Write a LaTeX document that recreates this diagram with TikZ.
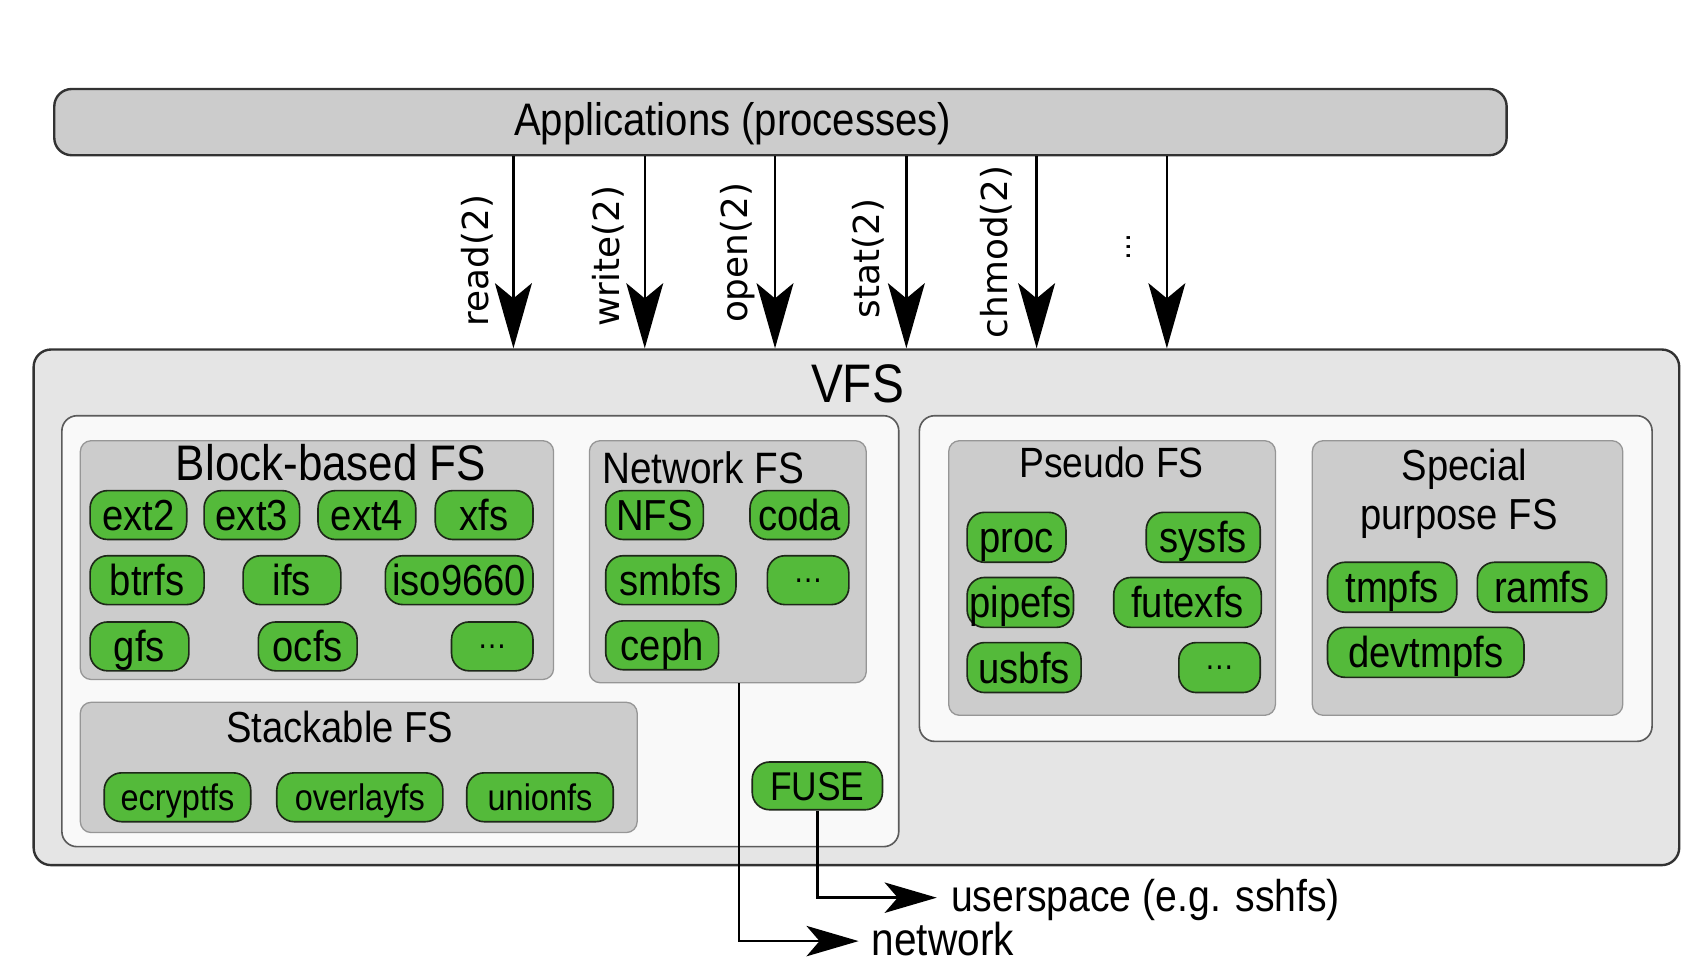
\documentclass[tikz,border=0pt]{standalone}
\usepackage{fontspec}
\setmainfont{Liberation Sans}[FakeStretch=0.88]
\newfontfamily\dvfont{DejaVu Sans}
\usetikzlibrary{arrows.meta}
\newcommand{\myfs}[1]{\fontsize{#1}{#1}\selectfont}
\definecolor{pillgreen}{RGB}{84,186,58}
\definecolor{pillstroke}{RGB}{30,40,25}
\definecolor{appfill}{RGB}{204,204,204}
\definecolor{vfsfill}{RGB}{229,229,229}
\definecolor{panelfill}{RGB}{249,249,249}
\definecolor{darkstroke}{RGB}{50,50,50}
\definecolor{boxstroke}{RGB}{150,150,150}
\begin{document}
\begin{tikzpicture}[x=1pt,y=-1pt,
  bigbox/.style={draw=darkstroke, line width=2.2, rounded corners=16, inner sep=0},
  panel/.style={draw=darkstroke!80, fill=panelfill, line width=1.5, rounded corners=14, inner sep=0},
  group/.style={draw=boxstroke, fill=appfill, line width=1.2, rounded corners=10, inner sep=0},
  pill/.style={draw=pillstroke, fill=pillgreen, line width=1.5, rounded corners=16, inner sep=0, text height=28.5pt, text depth=0pt, font=\myfs{40}},
  spill/.style={pill, font=\myfs{34}, text height=24.3pt},
  dpill/.style={pill, font=\myfs{31}, text height=3.5pt},
  title/.style={anchor=base, inner sep=0},
  call/.style={rotate=90, font=\dvfont\myfs{33}, inner sep=0},
  bigarr/.style={line width=2.2, -{Stealth[length=60pt, width=34pt, inset=14pt]}},
  outarr/.style={line width=2.2, -{Stealth[length=48pt, width=28pt, inset=12pt]}}
]
\useasboundingbox (0,0) rectangle (1568,895.5);

% main boxes
\node[bigbox, fill=appfill, minimum width=1338, minimum height=61] (apps) at (719,112.5) {};
\node[title, font=\myfs{42}] (appstxt) at (675,125) {Applications (processes)};

\node[bigbox, fill=vfsfill, minimum width=1516, minimum height=475] (vfs) at (789,559.5) {};
\node[title, font=\myfs{50}] (vfstxt) at (790,371) {VFS};

\node[panel, minimum width=771, minimum height=397] (lpanel) at (442.5,581.5) {};
\node[panel, minimum width=675, minimum height=300] (rpanel) at (1184.5,533) {};

% groups
\node[group, minimum width=436, minimum height=220] (block) at (292,516) {};
\node[title, font=\myfs{46}] (blocktxt) at (305,443) {Block-based FS};
\node[group, minimum width=255, minimum height=223] (netfs) at (670.5,517.5) {};
\node[title, font=\myfs{40.5}] (nettxt) at (648,445) {Network FS};
\node[group, minimum width=513, minimum height=120] (stack) at (330.5,707) {};
\node[title, font=\myfs{40}] (stacktxt) at (313,684) {Stackable FS};
\node[group, minimum width=301, minimum height=253] (pseudo) at (1024.5,532.5) {};
\node[title, font=\myfs{39}] (pseudotxt) at (1024,440) {Pseudo FS};
\node[group, minimum width=286, minimum height=253] (special) at (1352,532.5) {};
\node[title, font=\myfs{40}] (spectxt1) at (1349,443) {Special};
\node[title, font=\myfs{40}] (spectxt2) at (1344,488) {purpose FS};

% block-based pills
\node[pill, minimum width=89, minimum height=45] (ext2) at (127.5,474.5) {ext2};
\node[pill, minimum width=88, minimum height=45] (ext3) at (232,474.5) {ext3};
\node[pill, minimum width=90, minimum height=45] (ext4) at (338,474.5) {ext4};
\node[pill, minimum width=90, minimum height=45] (xfs) at (446,474.5) {xfs};
\node[pill, minimum width=105, minimum height=45] (btrfs) at (135.5,534.5) {btrfs};
\node[pill, minimum width=90, minimum height=45] (ifs) at (269,534.5) {ifs};
\node[pill, minimum width=136, minimum height=45] (iso) at (423,534.5) {iso9660};
\node[pill, minimum width=91, minimum height=45] (gfs) at (128.5,595.5) {gfs};
\node[pill, minimum width=91, minimum height=45] (ocfs) at (283.5,595.5) {ocfs};
\node[dpill, minimum width=75, minimum height=45] (bdots) at (453.5,595.5) {…};

% network pills
\node[pill, minimum width=90, minimum height=45] (nfs) at (603,474.5) {NFS};
\node[pill, minimum width=91, minimum height=45] (coda) at (736.5,474.5) {coda};
\node[pill, minimum width=120, minimum height=45] (smbfs) at (618,534.5) {smbfs};
\node[dpill, minimum width=75, minimum height=45] (ndots) at (744.5,534.5) {…};
\node[pill, minimum width=104, minimum height=45] (ceph) at (610,594.5) {ceph};

% stackable pills
\node[spill, minimum width=135, minimum height=45] (ecrypt) at (163.5,734.5) {ecryptfs};
\node[spill, minimum width=153, minimum height=45] (overlay) at (331.5,734.5) {overlayfs};
\node[spill, minimum width=135, minimum height=45] (union) at (497.5,734.5) {unionfs};

% FUSE
\node[pill, font=\myfs{37}, text height=26.5pt, minimum width=120, minimum height=44] (fuse) at (753,724) {FUSE};

% pseudo pills
\node[pill, minimum width=91, minimum height=46] (proc) at (936.5,495) {proc};
\node[pill, minimum width=105, minimum height=46] (sysfs) at (1108.5,495) {sysfs};
\node[pill, minimum width=98, minimum height=46] (pipefs) at (940,555) {pipefs};
\node[pill, minimum width=136, minimum height=46] (futexfs) at (1094,555) {futexfs};
\node[pill, minimum width=105, minimum height=46] (usbfs) at (943.5,615) {usbfs};
\node[dpill, minimum width=75, minimum height=46] (pdots) at (1123.5,615) {…};

% special pills
\node[pill, minimum width=119, minimum height=46] (tmpfs) at (1282.5,541) {tmpfs};
\node[pill, minimum width=119, minimum height=46] (ramfs) at (1420.5,541) {ramfs};
\node[pill, minimum width=181, minimum height=46] (devtmpfs) at (1313.5,601) {devtmpfs};

% system call arrows
\foreach \i/\x in {1/473,2/594,3/714,4/835,5/955,6/1075}{
  \coordinate (c\i) at (\x,0);
  \draw[bigarr] (c\i |- apps.south) -- (c\i |- vfs.north);
}
\node[call] (lread) at (440,240) {read(2)};
\node[call] (lwrite) at (560,236) {write(2)};
\node[call] (lopen) at (680,233) {open(2)};
\node[call] (lstat) at (800,238) {stat(2)};
\node[call] (lchmod) at (918,232) {chmod(2)};
\node[call, font=\dvfont\myfs{26}] (ldots) at (1040,228) {...};

% outgoing connectors
\node[anchor=base west, inner sep=0, font=\myfs{42.5}] (network) at (803,880) {network};
\node[anchor=base west, inner sep=0, font=\myfs{41}] (userspace) at (876,840) {userspace (e.g. sshfs)};
\coordinate (nettip) at (791,867);
\coordinate (usertip) at (863,827);
\draw[outarr] ([xshift=10.5pt]netfs.south) |- (nettip);
\draw[outarr] (fuse.south) |- (usertip);
\end{tikzpicture}
\end{document}
